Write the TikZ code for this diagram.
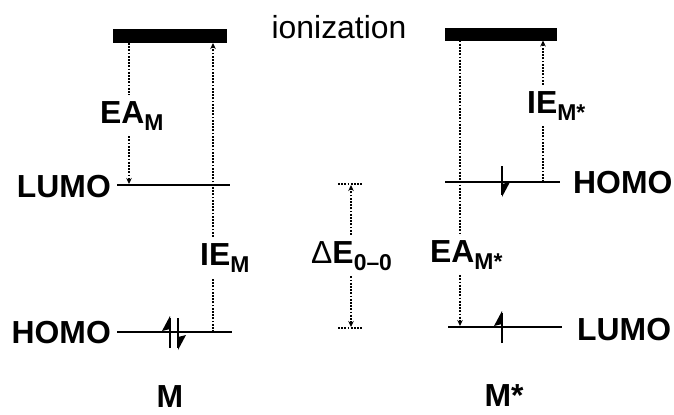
\documentclass[tikz,border=0pt]{standalone}
\usepackage{fontspec}
\setmainfont{Liberation Sans}
\usetikzlibrary{arrows.meta}
\newcommand{\lowsub}[1]{\raisebox{-7bp}{\fontsize{23}{23}\selectfont #1}}
\begin{document}
\begin{tikzpicture}[x=1bp,y=-1bp,
  txt/.style={font=\fontsize{32}{36}\selectfont\bfseries, inner sep=0pt},
  lbl/.style={font=\fontsize{32}{36}\selectfont\bfseries, inner xsep=0pt, inner ysep=6bp, anchor=base west},
  lvl/.style={line width=2.6bp},
  bar/.style={fill=black, draw=black, line width=1bp, inner sep=0pt},
  dots/.style={line width=2.1bp, dash pattern=on 1.8bp off 1.4bp},
  tip/.style={-{Stealth[length=6bp,width=5.5bp]}},
  elec/.style={line width=2.6bp},
  barb/.style={fill=black}
]
\useasboundingbox (0,0) rectangle (674,414);

% ionization bars
\node[bar, minimum width=113bp, minimum height=13bp] (ionL) at (170,36) {};
\node[bar, minimum width=111bp, minimum height=12bp] (ionR) at (501,34) {};
\node[txt, font=\fontsize{32}{36}\selectfont] (ion) at (339,27) {ionization};

% energy levels
\coordinate (lumoLa) at (117,185); \coordinate (lumoLb) at (230,185);
\coordinate (homoLa) at (117,332); \coordinate (homoLb) at (232,332);
\coordinate (homoRa) at (445,182); \coordinate (homoRb) at (560,182);
\coordinate (lumoRa) at (448,327); \coordinate (lumoRb) at (562,327);
\draw[lvl] (lumoLa) -- (lumoLb);
\draw[lvl] (homoLa) -- (homoLb);
\draw[lvl] (homoRa) -- (homoRb);
\draw[lvl] (lumoRa) -- (lumoRb);

\node[txt, anchor=east] (lumoLt) at (111,187) {LUMO};
\node[txt, anchor=east] (homoLt) at (111,333) {HOMO};
\node[txt, anchor=west] (homoRt) at (573,183) {HOMO};
\node[txt, anchor=west] (lumoRt) at (577,330) {LUMO};
\node[txt] (mL) at (170,397) {M};
\node[txt] (mR) at (504,396) {M*};

% EA_M (left)
\coordinate (eaLend) at (129,184);
\node[lbl] (eaL) at (100,123) {EA\lowsub{M}};
\draw[dots] (ionL.south -| eaLend) -- (eaL.north -| eaLend);
\draw[dots,tip] (eaL.south -| eaLend) -- (eaLend);

% IE_M (left)
\coordinate (ieLstart) at (213,332);
\node[lbl] (ieL) at (200,265) {IE\lowsub{M}};
\draw[dots] (ieLstart) -- (ieL.south -| ieLstart);
\draw[dots,tip] (ieL.north -| ieLstart) -- (ionL.south -| ieLstart);

% Delta E 0-0
\coordinate (dTa) at (338,184); \coordinate (dTb) at (363,184);
\coordinate (dBa) at (338,328); \coordinate (dBb) at (363,328);
\coordinate (dTop) at (351,185); \coordinate (dBot) at (351,327);
\draw[dots, line width=1.5bp] (dTa) -- (dTb);
\draw[dots, line width=1.5bp] (dBa) -- (dBb);
\node[lbl, font=\fontsize{32}{36}\selectfont] (dE) at (311,263) {Δ\textbf{E\lowsub{0–0}}};
\draw[dots,tip] (dE.north -| dTop) -- (dTop);
\draw[dots,tip] (dE.south -| dBot) -- (dBot);

% EA_M* (right)
\coordinate (eaRend) at (460,326);
\node[lbl] (eaR) at (430,262) {EA\lowsub{M*}};
\draw[dots] (ionR.south -| eaRend) -- (eaR.north -| eaRend);
\draw[dots,tip] (eaR.south -| eaRend) -- (eaRend);

% IE_M* (right)
\coordinate (ieRstart) at (543,182);
\node[lbl] (ieR) at (527,113) {IE\lowsub{M*}};
\draw[dots] (ieRstart) -- (ieR.south -| ieRstart);
\draw[dots,tip] (ieR.north -| ieRstart) -- (ionR.south -| ieRstart);

% electrons
\draw[elec] (170,348) -- (170,318);
\fill[barb] (170,316) -- (162,331) -- (170,329) -- cycle;
\draw[elec] (178,318) -- (178,348);
\fill[barb] (178,350) -- (186,335) -- (178,337) -- cycle;

\draw[elec] (502,166) -- (502,195);
\fill[barb] (502,197) -- (510,182) -- (502,184) -- cycle;

\draw[elec] (502,343) -- (502,313);
\fill[barb] (502,311) -- (494,326) -- (502,324) -- cycle;
\end{tikzpicture}
\end{document}
